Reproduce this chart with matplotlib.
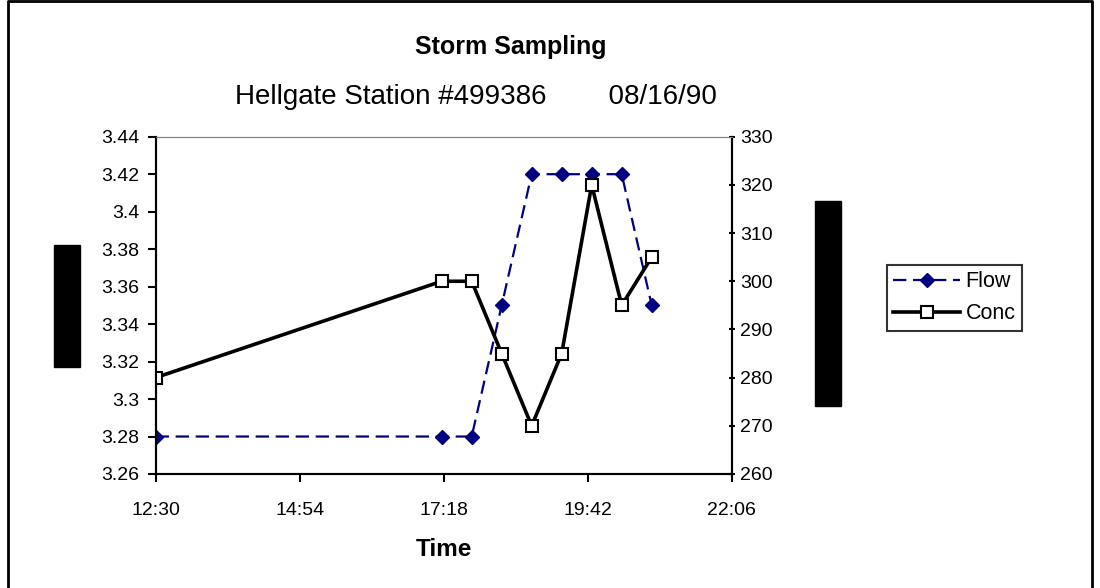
import matplotlib.pyplot as plt
from matplotlib.patches import Rectangle
from matplotlib.ticker import FixedLocator, FuncFormatter

plt.rcParams['font.family'] = ['Liberation Sans', 'DejaVu Sans']

times = ["12:30", "17:16", "17:46", "18:16", "18:46", "19:16", "19:46", "20:16", "20:46"]
flow = [3.28, 3.28, 3.28, 3.35, 3.42, 3.42, 3.42, 3.42, 3.35]
conc = [280, 300, 300, 285, 270, 285, 320, 295, 305]
xtick_labels = ["12:30", "14:54", "17:18", "19:42", "22:06"]


def to_min(s):
    h, m = s.split(":")
    return int(h) * 60 + int(m)


X = [to_min(t) for t in times]
xticks = [to_min(t) for t in xtick_labels]

fig = plt.figure(figsize=(11, 5.88), dpi=100)
ax = fig.add_axes([0.1415, 0.1939, 0.5237, 0.5736])
ax2 = ax.twinx()

l1, = ax.plot(X, flow, color="#000080", linestyle=(0, (6, 3)), linewidth=1.6,
              marker="D", markersize=7.5, label="Flow")
l2, = ax2.plot(X, conc, color="black", linewidth=2.6, marker="s", markersize=8,
               markerfacecolor="white", markeredgecolor="black", markeredgewidth=1.5,
               label="Conc")

ax.set_xlim(xticks[0], xticks[-1])
ax.set_ylim(3.26, 3.44)
ax2.set_ylim(260, 330)
ax.set_yticks([3.26 + 0.02 * i for i in range(10)])
ax.set_yticklabels(["3.26", "3.28", "3.3", "3.32", "3.34", "3.36", "3.38", "3.4", "3.42", "3.44"])
ax2.set_yticks(range(260, 331, 10))
ax.xaxis.set_major_locator(FixedLocator(xticks))
ax.xaxis.set_major_formatter(FuncFormatter(lambda v, p: "%d:%02d" % (int(v) // 60, int(v) % 60)))

for a in (ax, ax2):
    a.spines["top"].set_color("#808080")
    a.spines["left"].set_linewidth(1.5)
    a.spines["right"].set_linewidth(1.5)
    a.spines["bottom"].set_linewidth(1.5)
ax.tick_params(axis="both", labelsize=14, width=1.5, length=6, direction="out")
ax.tick_params(axis="y", pad=6)
ax.tick_params(axis="x", pad=14)
ax2.tick_params(axis="y", labelsize=14, width=1.5, length=5, direction="inout")

ax.set_xlabel("Time", fontsize=17.5, fontweight="bold", labelpad=14)
fig.text(0.464, 0.92, "Storm Sampling", fontsize=18, fontweight="bold", ha="center", va="center")
fig.text(0.4327, 0.835, "Hellgate Station #499386        08/16/90", fontsize=20, ha="center", va="center")

leg = ax.legend([l1, l2], ["Flow", "Conc"], loc="upper left", bbox_to_anchor=(887 / 1100, (588 - 265) / 588),
                bbox_transform=fig.transFigure, fontsize=15.5, frameon=True, fancybox=False,
                edgecolor="black", borderpad=0.3, handlelength=3.1, handletextpad=0.25,
                labelspacing=0.5, borderaxespad=0)
leg.get_frame().set_linewidth(1.5)

# hidden axis titles (black boxes)
fig.patches.append(Rectangle((54 / 1100, (588 - 367) / 588), 26 / 1100, 122 / 588,
                             transform=fig.transFigure, color="black"))
fig.patches.append(Rectangle((815 / 1100, (588 - 406) / 588), 26 / 1100, 205 / 588,
                             transform=fig.transFigure, color="black"))
# outer border
fig.add_artist(plt.Line2D([8 / 1100, 8 / 1100, 1092 / 1100, 1092 / 1100],
                          [0, 1 - 1 / 588, 1 - 1 / 588, 0], color="black", linewidth=2,
                          transform=fig.transFigure))

fig.savefig("out.png", dpi=100)
